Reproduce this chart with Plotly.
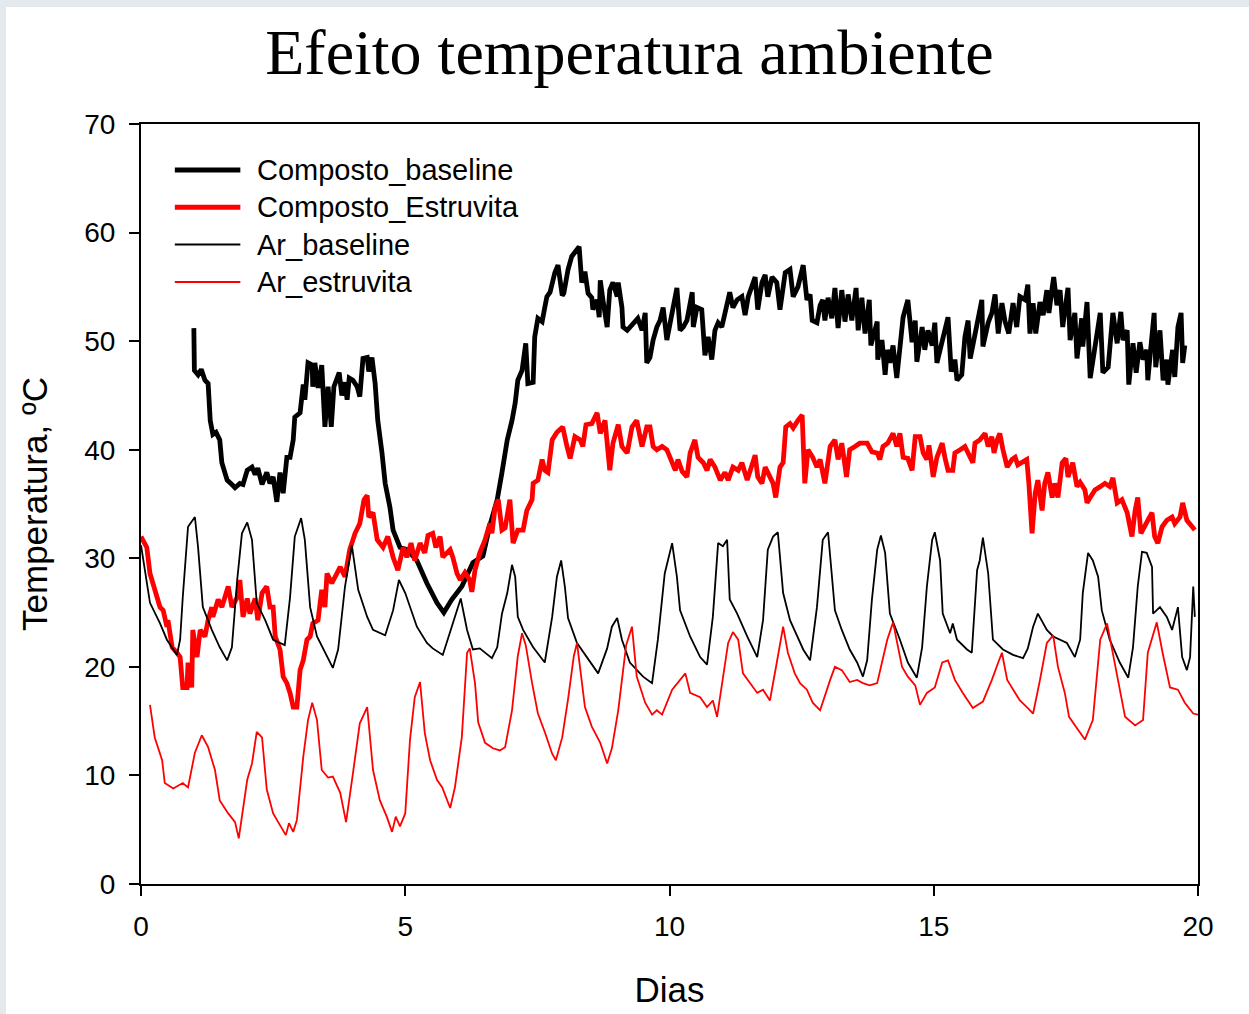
import plotly.graph_objects as go

# ---- Composto_baseline (compost temperature, baseline run) ----
cb_days = [1.00, 1.01, 1.08, 1.14, 1.21, 1.27, 1.31, 1.36, 1.42, 1.49, 1.53, 1.63, 1.72, 1.78, 1.87, 1.93,
           2.01, 2.10, 2.16, 2.21, 2.29, 2.38, 2.44, 2.50, 2.57, 2.63, 2.69, 2.76, 2.82, 2.88, 2.91, 3.01,
           3.07, 3.10, 3.16, 3.24, 3.25, 3.29, 3.35, 3.42, 3.48, 3.54, 3.60, 3.65, 3.75, 3.80, 3.86, 3.90,
           3.94, 4.01, 4.09, 4.14, 4.20, 4.28, 4.31, 4.37, 4.43, 4.48, 4.56, 4.62, 4.71, 4.77, 4.90, 5.03,
           5.22, 5.41, 5.60, 5.73, 5.88, 6.07, 6.28, 6.47, 6.60, 6.74, 6.83, 6.93, 7.02, 7.08, 7.13, 7.21,
           7.28, 7.32, 7.42, 7.45, 7.51, 7.59, 7.64, 7.68, 7.74, 7.83, 7.89, 7.97, 8.00, 8.08, 8.15, 8.21,
           8.29, 8.34, 8.40, 8.46, 8.53, 8.55, 8.63, 8.67, 8.69, 8.74, 8.82, 8.87, 8.93, 9.01, 9.03, 9.10,
           9.12, 9.20, 9.25, 9.35, 9.40, 9.48, 9.54, 9.57, 9.63, 9.69, 9.76, 9.82, 9.88, 9.95, 10.01, 10.07,
           10.14, 10.20, 10.26, 10.33, 10.43, 10.45, 10.52, 10.61, 10.67, 10.73, 10.80, 10.86, 10.92, 10.99,
           11.05, 11.14, 11.20, 11.28, 11.37, 11.43, 11.49, 11.56, 11.62, 11.67, 11.75, 11.81, 11.86, 11.94,
           12.03, 12.09, 12.19, 12.28, 12.34, 12.43, 12.53, 12.60, 12.66, 12.70, 12.79, 12.85, 12.90, 12.94,
           13.00, 13.07, 13.13, 13.19, 13.26, 13.32, 13.38, 13.45, 13.53, 13.57, 13.64, 13.70, 13.78, 13.81,
           13.93, 13.94, 14.02, 14.08, 14.12, 14.17, 14.23, 14.30, 14.36, 14.42, 14.51, 14.59, 14.65, 14.68,
           14.78, 14.83, 14.89, 14.97, 15.02, 15.06, 15.12, 15.21, 15.27, 15.33, 15.40, 15.44, 15.53, 15.59,
           15.65, 15.69, 15.78, 15.84, 15.91, 15.93, 16.03, 16.10, 16.16, 16.22, 16.29, 16.35, 16.42, 16.50,
           16.57, 16.63, 16.73, 16.78, 16.82, 16.88, 16.93, 17.01, 17.07, 17.14, 17.18, 17.24, 17.27, 17.33,
           17.39, 17.44, 17.54, 17.58, 17.67, 17.71, 17.80, 17.82, 17.90, 17.96, 18.05, 18.15, 18.20, 18.30,
           18.39, 18.47, 18.54, 18.58, 18.66, 18.69, 18.77, 18.83, 18.90, 18.96, 19.03, 19.05, 19.17, 19.20,
           19.28, 19.34, 19.41, 19.43, 19.52, 19.56, 19.62, 19.68, 19.71, 19.75]
cb_temp = [51.2, 47.3, 46.9, 47.4, 46.4, 46.1, 42.7, 41.4, 41.6, 40.9, 38.8, 37.2, 36.8, 36.5, 36.9, 36.8,
           38.1, 38.4, 37.7, 38.3, 36.8, 37.9, 36.9, 37.5, 35.2, 37.9, 36.0, 39.3, 39.3, 40.9, 43.0, 43.4,
           46.0, 44.6, 48.0, 47.8, 45.8, 48.0, 45.7, 47.8, 42.1, 45.8, 42.1, 45.8, 47.1, 45.0, 46.2, 44.6,
           46.6, 46.4, 45.8, 44.9, 48.4, 48.5, 47.2, 48.5, 46.1, 42.7, 39.7, 36.9, 34.7, 32.6, 31.0, 30.8,
           29.8, 27.7, 25.9, 25.0, 26.2, 27.4, 29.6, 30.2, 33.0, 35.4, 37.9, 40.9, 42.7, 44.3, 46.4, 47.3,
           49.8, 46.1, 46.2, 50.4, 52.1, 51.8, 53.1, 54.1, 54.5, 56.3, 57.0, 54.2, 54.4, 56.6, 57.8, 58.2,
           58.7, 55.4, 56.4, 54.4, 54.0, 52.9, 53.8, 52.2, 55.6, 53.8, 51.3, 54.7, 55.4, 54.1, 55.4, 53.1,
           51.3, 51.0, 51.3, 51.8, 52.1, 51.0, 52.6, 48.0, 48.5, 50.1, 51.3, 51.9, 53.1, 50.1, 51.7, 53.5,
           54.9, 51.0, 51.3, 51.9, 54.5, 51.3, 53.1, 52.9, 48.7, 50.4, 48.3, 51.0, 51.7, 51.3,
           52.6, 54.5, 53.1, 53.8, 54.1, 52.4, 54.1, 55.0, 55.9, 52.9, 55.4, 56.1, 54.1, 55.9,
           55.4, 52.9, 56.3, 56.6, 54.1, 55.0, 57.0, 53.8, 54.3, 51.9, 51.7, 53.3, 53.8, 51.9,
           54.0, 52.1, 54.9, 51.2, 54.7, 51.8, 54.3, 51.9, 54.9, 51.0, 54.0, 50.7, 53.8, 49.6,
           51.8, 48.3, 50.1, 46.9, 49.2, 48.0, 49.6, 46.6, 49.2, 52.2, 53.8, 49.9, 51.9, 48.1,
           51.3, 49.2, 51.0, 49.6, 51.7, 48.0, 49.2, 51.3, 52.2, 47.2, 48.3, 46.4, 46.9, 50.4,
           51.9, 48.4, 50.4, 52.2, 53.8, 49.5, 51.7, 52.6, 54.3, 50.7, 53.5, 51.8, 50.7, 53.5,
           51.3, 54.1, 53.8, 55.2, 50.7, 53.5, 50.7, 53.6, 52.4, 54.7, 52.6, 54.9, 55.9, 53.3,
           54.7, 51.3, 54.9, 50.1, 52.6, 48.4, 52.1, 49.5, 53.6, 46.6, 49.2, 52.6, 47.1, 47.6,
           52.6, 49.8, 52.7, 50.1, 51.0, 46.0, 49.8, 47.1, 49.9, 48.3, 49.2, 46.4, 52.6, 47.6,
           51.0, 46.4, 48.3, 46.0, 49.2, 46.7, 51.3, 52.6, 48.0, 49.6]

# ---- Composto_Estruvita (compost temperature, struvite run) ----
ce_days = [0.00, 0.11, 0.17, 0.26, 0.36, 0.42, 0.49, 0.51, 0.59, 0.68, 0.74, 0.79, 0.87, 0.89, 0.96, 0.98,
           1.06, 1.12, 1.21, 1.27, 1.34, 1.36, 1.46, 1.53, 1.59, 1.65, 1.72, 1.82, 1.87, 1.93, 2.01, 2.06,
           2.16, 2.21, 2.29, 2.38, 2.44, 2.50, 2.54, 2.63, 2.69, 2.76, 2.82, 2.88, 2.95, 3.01, 3.07, 3.14,
           3.20, 3.25, 3.35, 3.42, 3.48, 3.52, 3.61, 3.71, 3.77, 3.86, 3.95, 4.05, 4.14, 4.22, 4.28, 4.31,
           4.39, 4.47, 4.58, 4.67, 4.77, 4.86, 4.96, 5.03, 5.11, 5.18, 5.28, 5.37, 5.43, 5.52, 5.58, 5.66,
           5.71, 5.85, 5.90, 5.98, 6.04, 6.13, 6.22, 6.26, 6.32, 6.41, 6.51, 6.60, 6.64, 6.70, 6.76, 6.83,
           6.89, 6.98, 7.04, 7.13, 7.23, 7.30, 7.40, 7.42, 7.51, 7.59, 7.64, 7.70, 7.78, 7.87, 7.98, 8.06,
           8.12, 8.21, 8.31, 8.36, 8.42, 8.53, 8.63, 8.69, 8.78, 8.87, 8.93, 9.03, 9.10, 9.20, 9.29, 9.38,
           9.48, 9.57, 9.63, 9.69, 9.76, 9.86, 9.95, 10.01, 10.11, 10.16, 10.24, 10.33, 10.39, 10.48, 10.54,
           10.64, 10.71, 10.77, 10.86, 10.96, 11.05, 11.11, 11.20, 11.30, 11.37, 11.47, 11.56, 11.62, 11.67,
           11.75, 11.81, 11.90, 11.96, 12.01, 12.09, 12.15, 12.20, 12.28, 12.34, 12.43, 12.51, 12.56, 12.62,
           12.71, 12.79, 12.85, 12.94, 13.04, 13.13, 13.19, 13.26, 13.35, 13.41, 13.51, 13.60, 13.74, 13.83,
           13.93, 13.98, 14.04, 14.13, 14.23, 14.30, 14.36, 14.42, 14.51, 14.59, 14.65, 14.74, 14.80, 14.87,
           14.91, 14.99, 15.06, 15.16, 15.21, 15.27, 15.36, 15.40, 15.50, 15.59, 15.65, 15.74, 15.78, 15.87,
           15.97, 16.03, 16.10, 16.14, 16.20, 16.25, 16.31, 16.39, 16.48, 16.54, 16.59, 16.69, 16.76, 16.80,
           16.86, 16.92, 16.97, 17.05, 17.10, 17.16, 17.24, 17.29, 17.35, 17.43, 17.50, 17.54, 17.63, 17.71,
           17.77, 17.86, 17.90, 17.96, 18.05, 18.15, 18.24, 18.33, 18.39, 18.47, 18.56, 18.66, 18.75, 18.81,
           18.86, 18.92, 19.00, 19.05, 19.13, 19.18, 19.24, 19.32, 19.41, 19.51, 19.56, 19.66, 19.71, 19.79,
           19.89, 19.94]
ce_temp = [32.0, 31.0, 28.6, 27.1, 25.5, 25.2, 23.7, 24.3, 21.8, 21.3, 20.9, 18.1, 18.1, 20.4, 18.1, 23.4,
           20.9, 23.4, 22.8, 24.3, 25.5, 24.6, 26.2, 25.5, 26.4, 27.4, 25.5, 26.4, 28.0, 24.6, 26.3, 24.9,
           26.3, 24.3, 26.8, 27.4, 25.5, 25.5, 22.8, 21.6, 19.1, 18.5, 17.6, 16.3, 16.3, 19.7, 20.6, 22.5,
           22.8, 24.0, 24.3, 27.1, 25.5, 28.6, 27.7, 28.6, 29.2, 28.3, 30.8, 32.3, 33.2, 35.4, 35.8, 33.8,
           34.2, 31.7, 31.0, 32.0, 30.1, 28.9, 31.0, 30.1, 31.4, 29.8, 31.4, 30.5, 32.1, 32.3, 31.0, 32.0,
           30.1, 30.8, 30.1, 28.6, 28.0, 28.7, 28.0, 26.9, 28.9, 30.5, 31.7, 33.2, 32.3, 34.7, 35.4, 32.6,
           32.8, 35.4, 31.4, 32.6, 32.6, 34.4, 35.4, 36.9, 37.2, 39.1, 38.1, 37.9, 40.9, 41.6, 42.1, 40.3,
           39.2, 41.2, 40.9, 40.3, 42.3, 42.4, 43.4, 41.5, 42.7, 38.1, 40.6, 42.3, 40.3, 39.7, 42.1, 42.7,
           40.3, 42.1, 42.1, 40.3, 40.0, 40.3, 40.0, 39.3, 38.1, 39.1, 38.0, 37.5, 39.7, 40.9, 39.3,
           38.8, 38.1, 39.1, 38.4, 37.2, 37.9, 37.2, 38.4, 38.1, 38.8, 37.2, 38.4, 39.5, 37.5,
           36.9, 38.4, 37.5, 36.9, 35.6, 38.4, 38.8, 42.1, 42.4, 42.0, 42.7, 43.2, 36.9, 40.0,
           39.3, 38.4, 39.1, 36.9, 40.3, 40.9, 39.1, 40.6, 37.5, 40.0, 40.3, 40.6, 40.6, 39.8,
           39.7, 39.1, 40.3, 40.6, 41.5, 40.3, 41.5, 39.3, 39.2, 38.1, 41.2, 41.2, 39.7, 39.1,
           40.4, 37.5, 39.3, 40.6, 39.3, 38.1, 38.1, 39.7, 40.0, 40.3, 39.7, 38.8, 40.6, 40.9,
           41.5, 40.3, 41.2, 39.7, 40.9, 41.5, 40.0, 38.4, 39.1, 39.3, 38.6, 38.9, 39.1, 36.9,
           32.3, 36.0, 37.2, 34.4, 36.9, 37.9, 35.6, 36.9, 35.6, 38.8, 39.2, 37.5, 38.8, 36.6,
           37.0, 36.3, 35.1, 35.6, 36.3, 36.6, 36.9, 36.6, 37.4, 35.1, 35.4, 34.2, 32.0, 34.4,
           35.6, 32.3, 33.2, 33.5, 34.2, 32.0, 31.4, 32.9, 33.5, 33.8, 33.2, 33.8, 35.1, 33.5,
           32.9, 32.6]

# ---- Ar_baseline (air temperature, baseline run) ----
ab_days = [0.00, 0.17, 0.36, 0.49, 0.68, 0.74, 0.79, 0.89, 1.02, 1.08, 1.17, 1.34, 1.49, 1.63, 1.72, 1.82,
           1.91, 2.01, 2.10, 2.19, 2.35, 2.50, 2.72, 2.82, 2.91, 3.03, 3.10, 3.20, 3.33, 3.48, 3.63, 3.73,
           3.86, 3.99, 4.11, 4.28, 4.39, 4.62, 4.77, 4.88, 5.00, 5.22, 5.41, 5.52, 5.71, 5.88, 6.05, 6.17,
           6.28, 6.41, 6.64, 6.74, 6.83, 6.93, 7.02, 7.08, 7.13, 7.23, 7.42, 7.64, 7.78, 7.87, 7.95, 8.02,
           8.08, 8.25, 8.44, 8.65, 8.82, 8.91, 9.01, 9.10, 9.25, 9.50, 9.67, 9.78, 9.91, 10.05, 10.14, 10.20,
           10.39, 10.58, 10.71, 10.82, 10.92, 11.01, 11.09, 11.14, 11.28, 11.47, 11.66, 11.77, 11.86, 11.96,
           12.05, 12.15, 12.28, 12.53, 12.66, 12.79, 12.90, 13.00, 13.13, 13.26, 13.41, 13.55, 13.66, 13.74,
           13.83, 13.93, 14.00, 14.08, 14.17, 14.36, 14.51, 14.68, 14.78, 14.87, 14.97, 15.02, 15.12, 15.17,
           15.31, 15.36, 15.44, 15.63, 15.72, 15.82, 15.87, 15.93, 16.03, 16.12, 16.31, 16.50, 16.69, 16.78,
           16.88, 16.97, 17.14, 17.26, 17.52, 17.67, 17.77, 17.82, 17.92, 18.01, 18.11, 18.18, 18.33, 18.52,
           18.68, 18.77, 18.86, 18.94, 19.03, 19.13, 19.15, 19.28, 19.41, 19.51, 19.62, 19.70, 19.79, 19.85,
           19.91, 19.94]
ab_temp = [31.2, 25.9, 24.0, 22.5, 21.1, 22.5, 26.4, 32.9, 33.8, 31.0, 25.5, 23.4, 21.8, 20.6, 21.8, 28.0,
           32.3, 33.3, 31.7, 25.9, 24.3, 22.5, 22.0, 26.4, 32.0, 33.7, 31.7, 25.5, 22.8, 21.3, 19.9, 21.6,
           27.4, 31.2, 27.1, 24.6, 23.4, 22.9, 25.2, 28.0, 26.8, 23.7, 22.2, 21.7, 21.1, 23.7, 26.3, 23.4,
           21.6, 21.7, 20.8, 21.8, 24.9, 26.8, 29.4, 28.3, 24.6, 23.4, 21.8, 20.4, 24.6, 28.3, 29.8, 27.4,
           24.5, 22.2, 20.9, 19.4, 21.7, 23.7, 24.5, 22.5, 20.4, 19.1, 18.5, 22.5, 28.6, 31.4, 28.3, 25.2,
           22.8, 20.9, 20.2, 24.6, 31.4, 31.1, 31.7, 26.2, 24.9, 22.8, 20.9, 24.3, 30.8, 32.0,
           32.4, 26.8, 24.3, 21.6, 20.6, 25.5, 31.7, 32.4, 25.2, 23.4, 21.6, 20.4, 19.1, 20.6,
           26.2, 30.8, 32.1, 30.5, 24.9, 22.5, 20.4, 19.0, 21.8, 27.4, 31.7, 32.4, 29.8, 24.9,
           23.1, 24.0, 22.5, 21.6, 21.3, 28.9, 29.8, 31.9, 28.6, 22.5, 21.6, 21.1, 20.8, 21.7,
           23.7, 24.9, 23.4, 22.8, 22.2, 20.9, 22.5, 26.8, 30.5, 29.8, 28.3, 25.2, 22.5, 20.4,
           19.0, 21.8, 27.4, 30.6, 30.5, 29.2, 24.9, 25.5, 24.6, 23.4, 25.5, 20.9, 19.7, 20.9,
           27.4, 24.6]

# ---- Ar_estruvita (air temperature, struvite run) ----
ae_days = [0.17, 0.26, 0.40, 0.45, 0.61, 0.79, 0.89, 1.02, 1.15, 1.27, 1.40, 1.49, 1.65, 1.78, 1.85, 2.01,
           2.10, 2.19, 2.29, 2.38, 2.50, 2.63, 2.74, 2.80, 2.88, 2.95, 3.07, 3.16, 3.24, 3.33, 3.42, 3.54,
           3.63, 3.77, 3.88, 4.01, 4.14, 4.28, 4.39, 4.52, 4.65, 4.75, 4.82, 4.90, 5.00, 5.09, 5.18, 5.28,
           5.37, 5.47, 5.60, 5.70, 5.85, 5.94, 6.07, 6.17, 6.22, 6.32, 6.38, 6.51, 6.66, 6.79, 6.89, 7.02,
           7.13, 7.21, 7.28, 7.40, 7.51, 7.64, 7.78, 7.85, 7.97, 8.08, 8.19, 8.25, 8.40, 8.53, 8.69, 8.82,
           8.91, 9.03, 9.18, 9.29, 9.38, 9.54, 9.67, 9.76, 9.86, 10.05, 10.20, 10.30, 10.39, 10.58, 10.71,
           10.82, 10.90, 11.01, 11.11, 11.20, 11.30, 11.39, 11.52, 11.66, 11.77, 11.90, 12.03, 12.15, 12.24,
           12.37, 12.47, 12.60, 12.71, 12.85, 13.04, 13.13, 13.26, 13.41, 13.55, 13.66, 13.79, 13.93, 14.02,
           14.12, 14.23, 14.33, 14.40, 14.51, 14.65, 14.74, 14.87, 15.02, 15.16, 15.27, 15.40, 15.55, 15.74,
           15.93, 16.10, 16.22, 16.29, 16.39, 16.50, 16.63, 16.78, 16.88, 17.01, 17.14, 17.26, 17.35, 17.48,
           17.56, 17.73, 17.86, 18.01, 18.15, 18.28, 18.39, 18.52, 18.62, 18.81, 18.96, 19.05, 19.22, 19.33,
           19.47, 19.62, 19.75, 19.91, 20.00]
ae_temp = [16.5, 13.5, 11.4, 9.3, 8.8, 9.3, 8.9, 12.1, 13.7, 12.6, 10.5, 7.7, 6.5, 5.7, 4.2, 9.6,
           11.1, 14.0, 13.5, 8.7, 6.5, 5.4, 4.5, 5.6, 4.8, 5.9, 11.7, 15.1, 16.7, 15.1, 10.5, 9.8,
           9.9, 8.4, 5.7, 10.2, 14.8, 16.3, 10.5, 7.7, 6.2, 4.8, 6.2, 5.3, 6.5, 13.3, 17.2, 18.6,
           13.9, 11.4, 9.6, 8.9, 7.0, 8.9, 13.5, 21.3, 21.7, 18.5, 14.9, 13.0, 12.5, 12.3, 12.6, 16.0,
           21.0, 23.1, 22.0, 18.5, 15.7, 14.0, 12.0, 11.4, 13.5, 17.0, 21.0, 22.2, 16.3, 14.5, 13.0, 11.1,
           12.5, 16.0, 22.0, 23.7, 19.1, 16.7, 15.6, 16.0, 15.6, 17.9, 18.8, 19.4, 17.6, 17.2, 16.3,
           16.9, 15.4, 18.8, 22.2, 23.2, 22.5, 19.4, 18.5, 17.6, 17.9, 16.9, 20.4, 23.7, 21.3,
           19.4, 18.5, 17.9, 16.7, 16.0, 18.8, 20.0, 19.7, 18.6, 18.8, 18.5, 18.3, 18.5, 20.4,
           22.5, 24.1, 21.8, 20.0, 19.1, 18.3, 16.5, 17.6, 18.1, 20.4, 20.6, 18.8, 17.6, 16.2,
           16.8, 18.8, 20.4, 21.3, 18.8, 17.9, 16.9, 16.2, 15.7, 18.8, 22.2, 22.9, 20.0, 17.6,
           15.4, 14.2, 13.3, 15.1, 22.5, 24.0, 21.3, 17.9, 15.4, 14.6, 15.1, 21.3, 24.1, 21.3,
           18.1, 17.9, 16.7, 15.7, 15.6]

series = [
    ("Composto_baseline", cb_days, cb_temp, "black", 4.8),
    ("Composto_Estruvita", ce_days, ce_temp, "#ff0000", 4.8),
    ("Ar_baseline", ab_days, ab_temp, "black", 1.8),
    ("Ar_estruvita", ae_days, ae_temp, "#ff0000", 1.8),
]

sans = "Liberation Sans, Arial, sans-serif"

fig = go.Figure()
for name, xs, ys, color, width in series:
    fig.add_trace(go.Scatter(x=xs, y=ys, mode="lines", name=name, showlegend=False,
                             line=dict(color=color, width=width)))

# Key in the upper-left corner of the plot area: a line sample and a label per series
key_x0, key_x1, key_text_x = 0.032, 0.094, 0.108
key_top, key_step = 0.9395, 0.0491
shapes = [dict(type="rect", xref="paper", yref="paper",
               x0=-0.1277, x1=1.06, y0=-0.2, y1=1.1539,
               fillcolor="white", line=dict(width=0), layer="below")]
annotations = []
for i, (name, xs, ys, color, width) in enumerate(series):
    ky = key_top - i * key_step
    shapes.append(dict(type="line", xref="paper", yref="paper",
                       x0=key_x0, x1=key_x1, y0=ky, y1=ky,
                       line=dict(color=color, width=width + 0.2)))
    annotations.append(dict(text=name, xref="paper", yref="paper", x=key_text_x, y=ky,
                            xanchor="left", yanchor="middle", showarrow=False,
                            font=dict(family=sans, size=29, color="black")))

axis_common = dict(
    showline=True, linecolor="black", linewidth=2, mirror=True,
    ticks="outside", ticklen=10, tickwidth=2, tickcolor="black",
    showgrid=False, zeroline=False,
    tickfont=dict(family=sans, size=28, color="black"),
)

fig.update_layout(
    width=1249, height=1014,
    margin=dict(l=141, r=51, t=124, b=130),
    paper_bgcolor="#e4e9ee",
    plot_bgcolor="white",
    title=dict(text="Efeito temperatura ambiente",
               font=dict(family="Liberation Serif, Times New Roman, serif", size=64, color="black"),
               x=0.504, xanchor="center", y=0.949, yanchor="middle"),
    xaxis=dict(range=[0, 20], tickvals=[0, 5, 10, 15, 20], ticklabelstandoff=6,
               title=dict(text="Dias", font=dict(family=sans, size=35, color="black"), standoff=37),
               **axis_common),
    yaxis=dict(range=[0, 70], tickvals=[0, 10, 20, 30, 40, 50, 60, 70], ticklabelstandoff=8,
               title=dict(text="Temperatura, ºC", font=dict(family=sans, size=35, color="black"), standoff=26),
               **axis_common),
    shapes=shapes,
    annotations=annotations,
)

fig.write_html("out.html")
